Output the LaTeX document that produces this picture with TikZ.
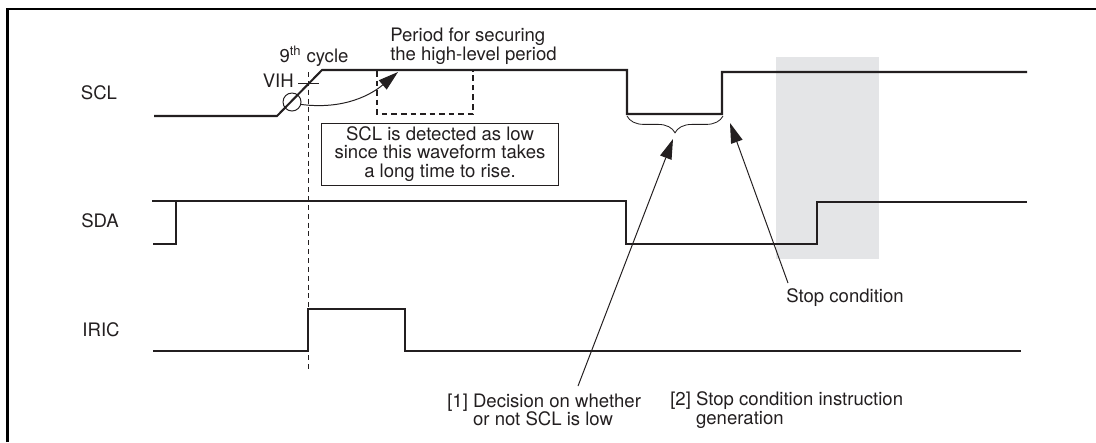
\documentclass[tikz,border=0pt]{standalone}
\usepackage{fontspec}
\setmainfont{TeX Gyre Heros}
\usetikzlibrary{arrows.meta, calc, decorations.pathreplacing}
\definecolor{wavedark}{RGB}{35,31,32}
\definecolor{wavegray}{RGB}{228,229,231}
\tikzset{
  wave/.style={line width=1.45pt, draw=wavedark, line join=miter},
  frame/.style={line width=1.6pt, draw=black},
  txt/.style={font=\fontsize{13.2}{13.3}\selectfont, text=wavedark, inner sep=0pt},
  pointer/.style={-{Triangle[length=5mm, width=3mm]}, line width=0.7pt, draw=wavedark},
  guide/.style={line width=0.7pt, draw=wavedark, dash pattern=on 3.5pt off 2.8pt}
}

\begin{document}
\begin{tikzpicture}[
  x=0.025cm, y=-0.025cm,
  holdbox/.style={line width=1.3pt, draw=wavedark, dash pattern=on 4pt off 2.8pt},
  notebox/.style={txt, rectangle, draw=wavedark, line width=0.7pt, align=center,
    minimum width=5.93cm, minimum height=1.55cm}
]
\useasboundingbox (0,0) rectangle (1096,442);

% stop condition window (behind the waveforms)
\fill[wavegray] (776,57) rectangle (879,259);

% frame
\draw[frame] (7.5,442) -- (7.5,9) -- (1096,9);

% signal names
\node[txt, anchor=base] (scl) at (99,99) {SCL};
\node[txt, anchor=base] (sda) at (100,227) {SDA};
\node[txt, anchor=base] (iric) at (101,336) {IRIC};

% SCL
\draw[wave] (154,116) -- (277,116) -- (322,70) -- (627,70) -- (627,114)
  -- (722,114) -- (722,72) -- (1027,72);

% SDA
\draw[wave] (152,201) -- (626,201) -- (626,244) -- (817,244) -- (817,202) -- (1027,202);
\draw[wave] (153,244) -- (176,244) -- (176,201);

% IRIC
\draw[wave] (153,351) -- (308,351) -- (308,309) -- (405,309) -- (405,351) -- (1021,351);

% 9th cycle marker and VIH
\draw[guide] (308,72) -- (308,370);
\node[txt, anchor=base] (cyc) at (314,62) {9\textsuperscript{th} cycle};
\node[txt, anchor=base east] (vih) at (294,87) {VIH};
\draw[line width=0.7pt, draw=wavedark] (298,83) -- (319,83);
\node[circle, draw=wavedark, line width=0.7pt, minimum size=0.45cm, inner sep=0pt] (ring) at (292,102) {};

% high-level period
\draw[holdbox] (377,71) -- (377,114) -- (473,114) -- (473,71);
\node[txt, anchor=west, align=left] (per) at (390,46.5) {Period for securing\\the high-level period};
\coordinate (vtip) at (398,72);
\draw[pointer] (ring.-15) .. controls (345,110) and (372,94) .. (vtip);

\node[notebox] (det) at (440,154) {SCL is detected as low\\since this waveform takes\\a long time to rise.};

% low period brace
\draw[line width=0.6pt, draw=wavedark, decorate, decoration={brace, mirror, amplitude=0.42cm}]
  (627,116) -- (723,116);
\coordinate (btip) at (673,139);
\coordinate (rtip) at (730,123);

% annotations
\node[txt, anchor=base] (stp) at (845,302) {Stop condition};
\node[txt, anchor=west, align=left] (dec) at (447,410) {[1] Decision on whether\\\hphantom{[1] }or not SCL is low};
\node[txt, anchor=west, align=left] (gen) at (670,410) {[2] Stop condition instruction\\\hphantom{[2] }generation};
\coordinate (d1) at (578,386);
\coordinate (s1) at (788,283);
\draw[pointer] (d1) -- (btip);
\draw[pointer] (s1) -- (rtip);

\end{tikzpicture}
\end{document}
